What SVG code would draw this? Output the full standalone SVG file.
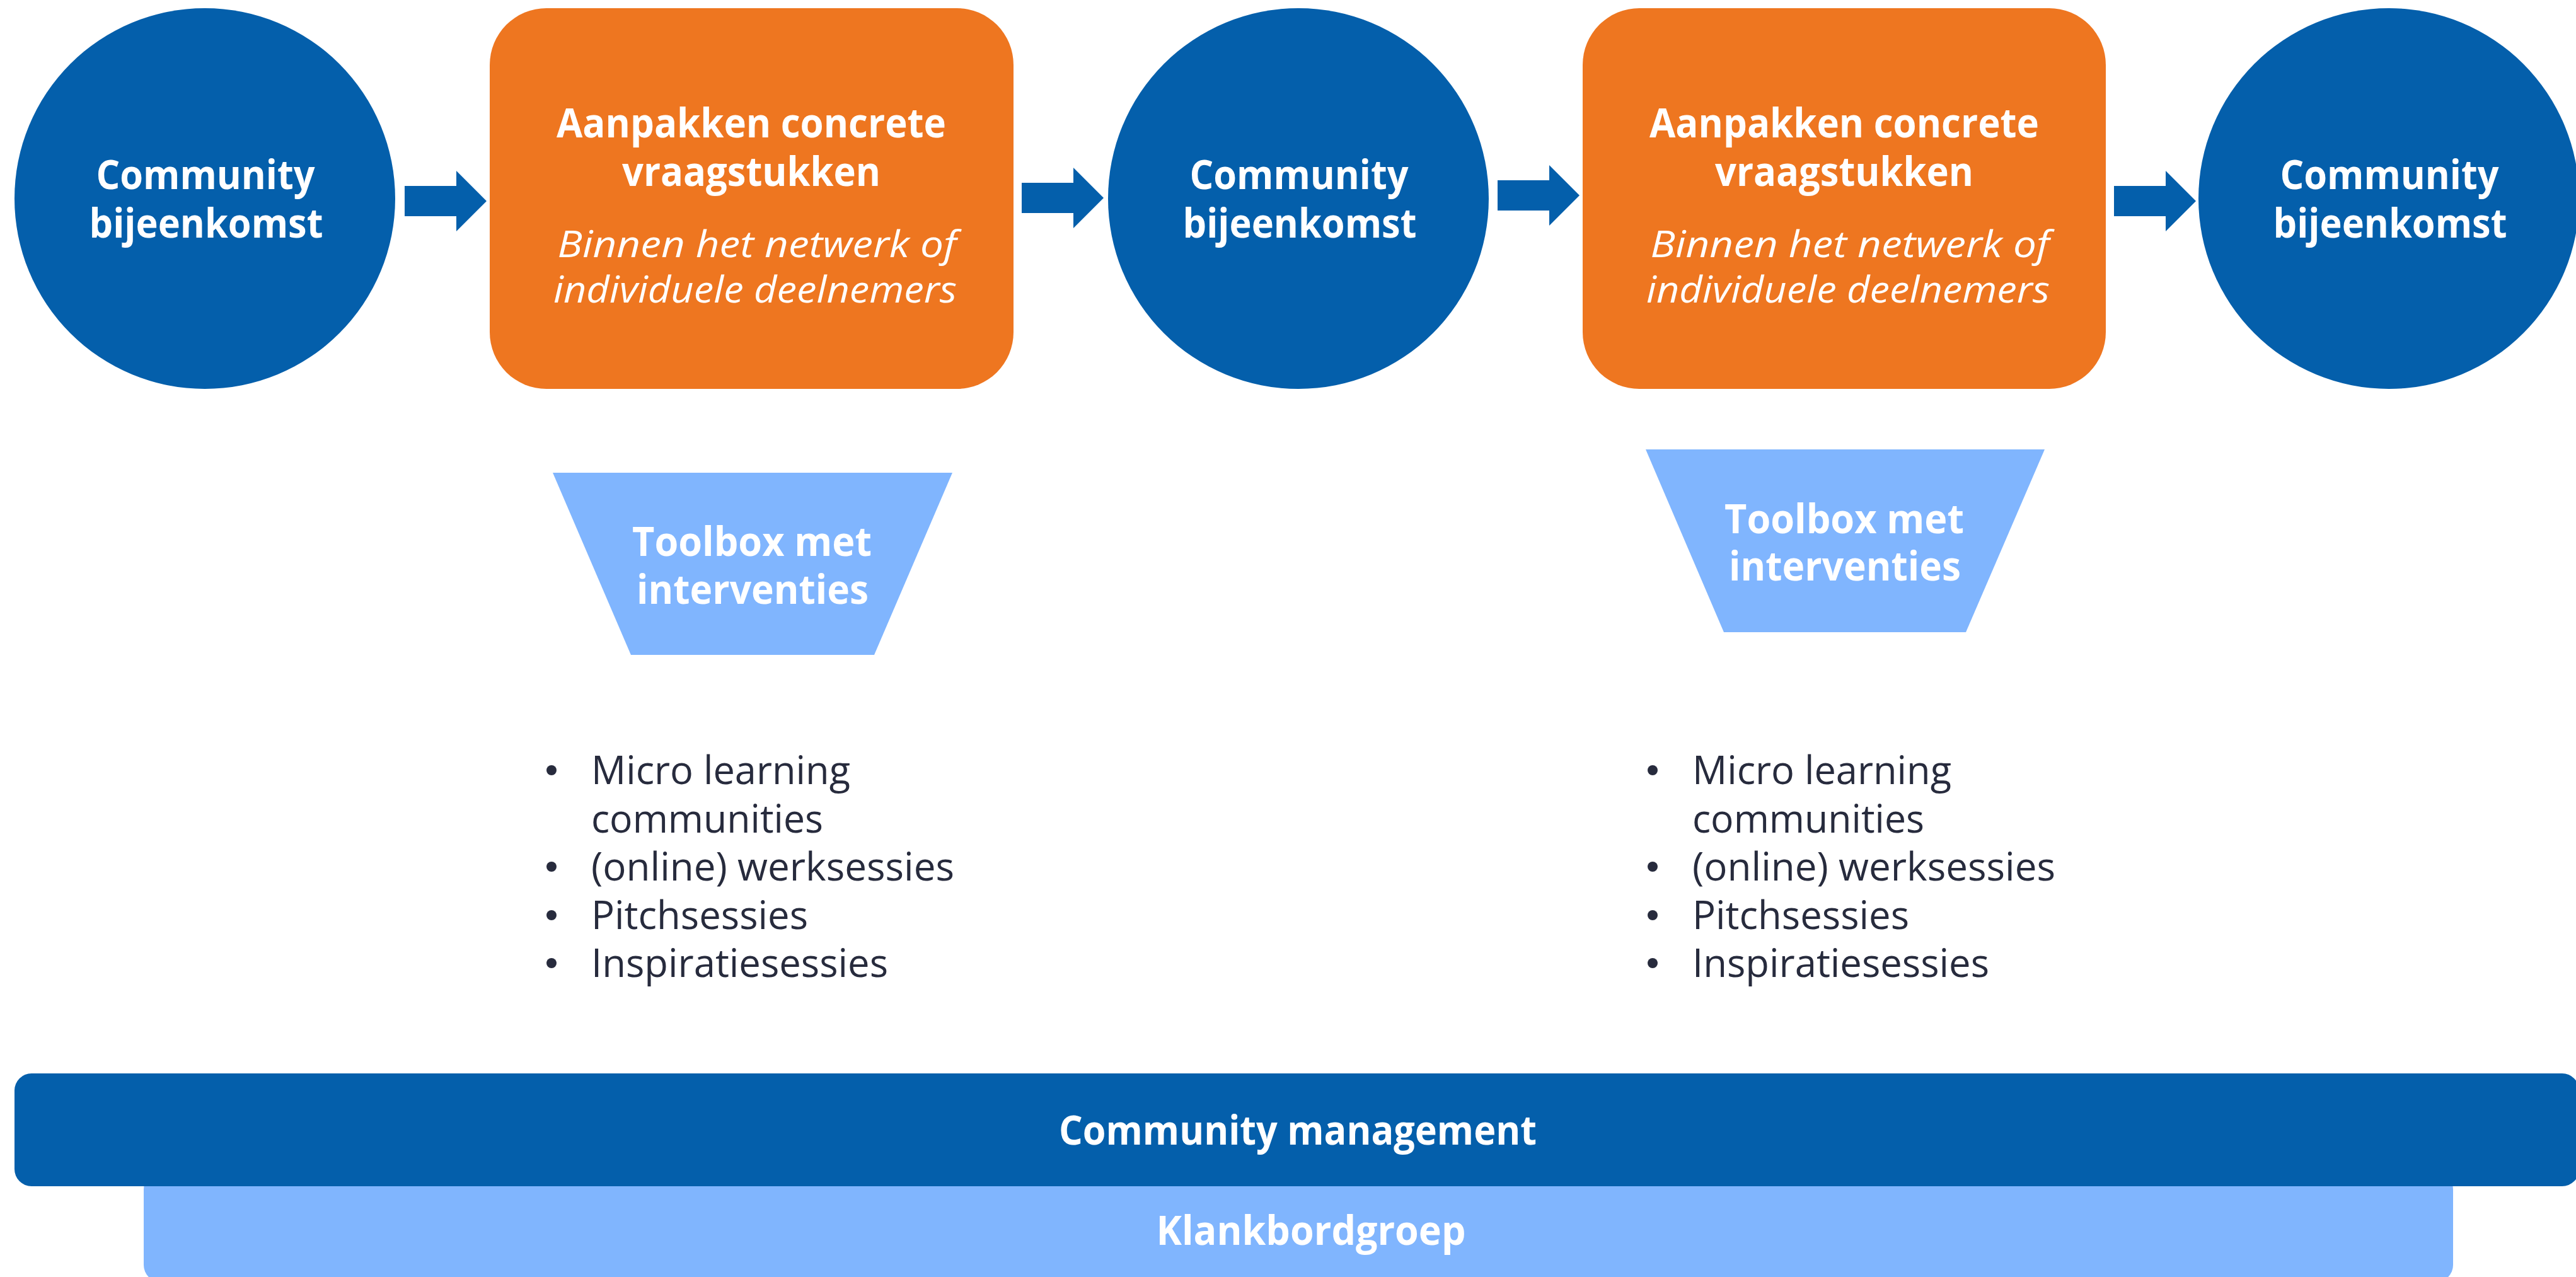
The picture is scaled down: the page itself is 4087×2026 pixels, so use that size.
<svg xmlns="http://www.w3.org/2000/svg" width="4087" height="2026" viewBox="0 0 4087 2026">
<defs>
<style>
.blue{fill:#045fab}
.orange{fill:#ee7620}
.light{fill:#80b5fe}
.b{font-family:"Open Sans","Noto Sans",sans-serif;font-weight:700;font-size:65px;fill:#fff;text-anchor:middle}
.i{font-family:"Open Sans","Noto Sans",sans-serif;font-style:italic;font-weight:400;font-size:59px;fill:#fff;text-anchor:middle}
.li{font-family:"Open Sans","Noto Sans",sans-serif;font-weight:400;font-size:63px;fill:#272b3d}
.dot{fill:#272b3d}
</style>
<path id="arrow" d="M0,-24 H82 V-48 L130,0 L82,48 V24 H0 Z"/>
</defs>
<rect width="4087" height="2026" fill="#fff"/>

<g id="connectors">
<use href="#arrow" class="blue" transform="translate(642,319)"/>
<use href="#arrow" class="blue" transform="translate(1621,314)"/>
<use href="#arrow" class="blue" transform="translate(2376,310)"/>
<use href="#arrow" class="blue" transform="translate(3354,319)"/>
</g>

<g id="circle1">
<circle class="blue" cx="325" cy="315" r="302"/>
<text class="b" x="326" y="300" textLength="347" lengthAdjust="spacingAndGlyphs">Community</text>
<text class="b" x="327" y="377" textLength="371" lengthAdjust="spacingAndGlyphs">bijeenkomst</text>
</g>

<g id="box1">
<rect class="orange" x="777" y="13" width="831" height="604" rx="90"/>
<text class="b" x="1192" y="218" textLength="618" lengthAdjust="spacingAndGlyphs">Aanpakken concrete</text>
<text class="b" x="1192" y="295" textLength="410" lengthAdjust="spacingAndGlyphs">vraagstukken</text>
<text class="i" x="1201" y="408" textLength="633" lengthAdjust="spacingAndGlyphs">Binnen het netwerk of</text>
<text class="i" x="1198" y="480" textLength="640" lengthAdjust="spacingAndGlyphs">individuele deelnemers</text>
</g>

<g id="circle2">
<circle class="blue" cx="2060" cy="315" r="302"/>
<text class="b" x="2061" y="300" textLength="347" lengthAdjust="spacingAndGlyphs">Community</text>
<text class="b" x="2062" y="377" textLength="371" lengthAdjust="spacingAndGlyphs">bijeenkomst</text>
</g>

<g id="box2">
<rect class="orange" x="2511" y="13" width="830" height="604" rx="90"/>
<text class="b" x="2926" y="218" textLength="618" lengthAdjust="spacingAndGlyphs">Aanpakken concrete</text>
<text class="b" x="2926" y="295" textLength="410" lengthAdjust="spacingAndGlyphs">vraagstukken</text>
<text class="i" x="2935" y="408" textLength="633" lengthAdjust="spacingAndGlyphs">Binnen het netwerk of</text>
<text class="i" x="2932" y="480" textLength="640" lengthAdjust="spacingAndGlyphs">individuele deelnemers</text>
</g>

<g id="circle3">
<circle class="blue" cx="3790" cy="315" r="302"/>
<text class="b" x="3791" y="300" textLength="347" lengthAdjust="spacingAndGlyphs">Community</text>
<text class="b" x="3792" y="377" textLength="371" lengthAdjust="spacingAndGlyphs">bijeenkomst</text>
</g>

<g id="toolbox1">
<polygon class="light" points="877,750 1511,750 1387,1039 1001,1039"/>
<text class="b" x="1193" y="882" textLength="380" lengthAdjust="spacingAndGlyphs">Toolbox met</text>
<text class="b" x="1194" y="958" textLength="368" lengthAdjust="spacingAndGlyphs">interventies</text>
</g>

<g id="toolbox2">
<polygon class="light" points="2611,713 3244,713 3119,1003 2735,1003"/>
<text class="b" x="2926" y="846" textLength="380" lengthAdjust="spacingAndGlyphs">Toolbox met</text>
<text class="b" x="2927" y="921" textLength="368" lengthAdjust="spacingAndGlyphs">interventies</text>
</g>

<g id="list1">
<circle class="dot" cx="875" cy="1222" r="8"/>
<circle class="dot" cx="875" cy="1375" r="8"/>
<circle class="dot" cx="875" cy="1452" r="8"/>
<circle class="dot" cx="875" cy="1528" r="8"/>
<text class="li" x="938" y="1244" textLength="411" lengthAdjust="spacingAndGlyphs">Micro learning</text>
<text class="li" x="938" y="1321" textLength="368" lengthAdjust="spacingAndGlyphs">communities</text>
<text class="li" x="938" y="1397" textLength="576" lengthAdjust="spacingAndGlyphs">(online) werksessies</text>
<text class="li" x="938" y="1474" textLength="344" lengthAdjust="spacingAndGlyphs">Pitchsessies</text>
<text class="li" x="938" y="1550" textLength="471" lengthAdjust="spacingAndGlyphs">Inspiratiesessies</text>
</g>

<g id="list2">
<circle class="dot" cx="2622" cy="1222" r="8"/>
<circle class="dot" cx="2622" cy="1375" r="8"/>
<circle class="dot" cx="2622" cy="1452" r="8"/>
<circle class="dot" cx="2622" cy="1528" r="8"/>
<text class="li" x="2685" y="1244" textLength="411" lengthAdjust="spacingAndGlyphs">Micro learning</text>
<text class="li" x="2685" y="1321" textLength="368" lengthAdjust="spacingAndGlyphs">communities</text>
<text class="li" x="2685" y="1397" textLength="576" lengthAdjust="spacingAndGlyphs">(online) werksessies</text>
<text class="li" x="2685" y="1474" textLength="344" lengthAdjust="spacingAndGlyphs">Pitchsessies</text>
<text class="li" x="2685" y="1550" textLength="471" lengthAdjust="spacingAndGlyphs">Inspiratiesessies</text>
</g>

<g id="klankbordgroep">
<rect class="light" x="228" y="1860" width="3664" height="174" rx="27"/>
<text class="b" x="2080" y="1975" textLength="491" lengthAdjust="spacingAndGlyphs">Klankbordgroep</text>
</g>

<g id="community-management">
<rect class="blue" x="23" y="1703" width="4069" height="179" rx="27"/>
<text class="b" x="2059" y="1816" textLength="758" lengthAdjust="spacingAndGlyphs">Community management</text>
</g>
</svg>
